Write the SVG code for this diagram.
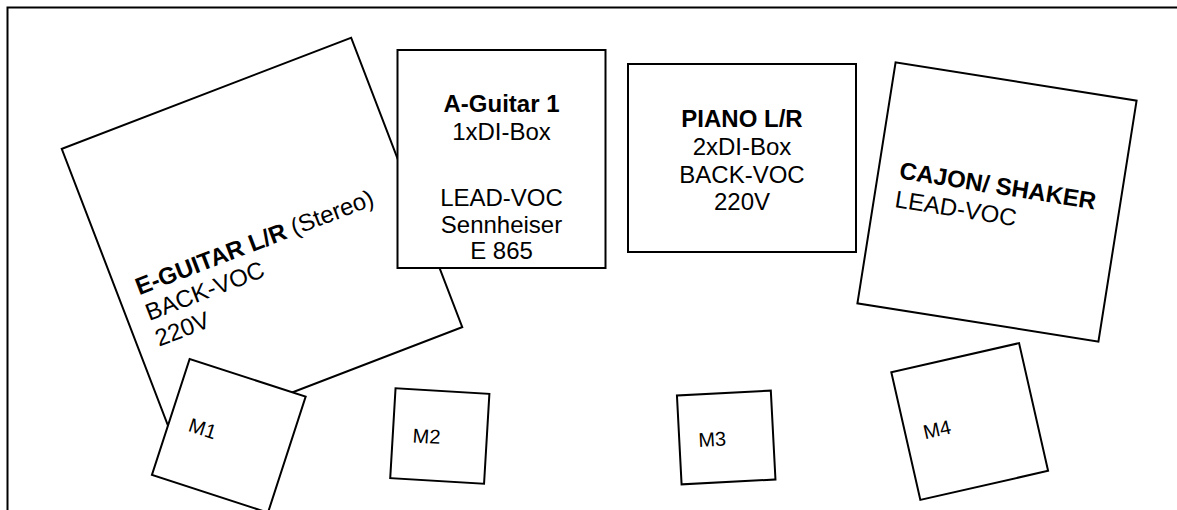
<svg xmlns="http://www.w3.org/2000/svg" width="1177" height="510" viewBox="0 0 1177 510">
<style>
.box{fill:#fff;stroke:#000;stroke-width:2}
.frame{fill:none;stroke:#000;stroke-width:2}
text{font-family:"Liberation Sans",Arial,sans-serif;font-size:24px;fill:#000}
.b{font-weight:bold}
.c{text-anchor:middle}
.m{font-size:20px}
</style>
<rect width="1177" height="510" fill="#fff"/>
<path class="frame" d="M7.5 520 V7.5 H1180"/>
<g id="connectors"/>
<g id="e-guitar" transform="translate(262,238) rotate(-21)">
<rect class="box" x="-155" y="-155" width="310" height="310"/>
<text x="-135" y="9.5"><tspan class="b">E-GUITAR L/R</tspan> (Stereo)</text>
<text x="-135" y="37">BACK-VOC</text>
<text x="-135" y="64.6">220V</text>
</g>
<g id="a-guitar">
<rect class="box" x="397.5" y="50" width="208" height="218"/>
<text class="c b" x="501.5" y="111.7">A-Guitar 1</text>
<text class="c" x="501.5" y="139.5">1xDI-Box</text>
<text class="c" x="501.5" y="206">LEAD-VOC</text>
<text class="c" x="501.5" y="233">Sennheiser</text>
<text class="c" x="501.5" y="259">E 865</text>
</g>
<g id="piano">
<rect class="box" x="628" y="64" width="228" height="188"/>
<text class="c b" x="742" y="127.3">PIANO L/R</text>
<text class="c" x="742" y="155">2xDI-Box</text>
<text class="c" x="742" y="182.7">BACK-VOC</text>
<text class="c" x="742" y="210">220V</text>
</g>
<g id="cajon" transform="translate(997,202) rotate(9)">
<rect class="box" x="-122" y="-122" width="244" height="244"/>
<text class="b" x="-101" y="-8">CAJON/ SHAKER</text>
<text x="-101" y="21">LEAD-VOC</text>
</g>
<g id="m1" transform="translate(228.8,435.8) rotate(18)">
<rect class="box" x="-61" y="-61" width="122" height="122"/>
<text class="m" x="-41" y="8">M1</text>
</g>
<g id="m2" transform="translate(439.8,436) rotate(3.4)">
<rect class="box" x="-47" y="-45" width="94" height="90"/>
<text class="m" x="-27" y="8">M2</text>
</g>
<g id="m3" transform="translate(726.2,437.5) rotate(-3)">
<rect class="box" x="-47" y="-44.5" width="94" height="89"/>
<text class="m" x="-28" y="8">M3</text>
</g>
<g id="m4" transform="translate(969.7,421.5) rotate(-12.8)">
<rect class="box" x="-65.5" y="-65.5" width="131" height="131"/>
<text class="m" x="-47.5" y="7.5">M4</text>
</g>
</svg>
